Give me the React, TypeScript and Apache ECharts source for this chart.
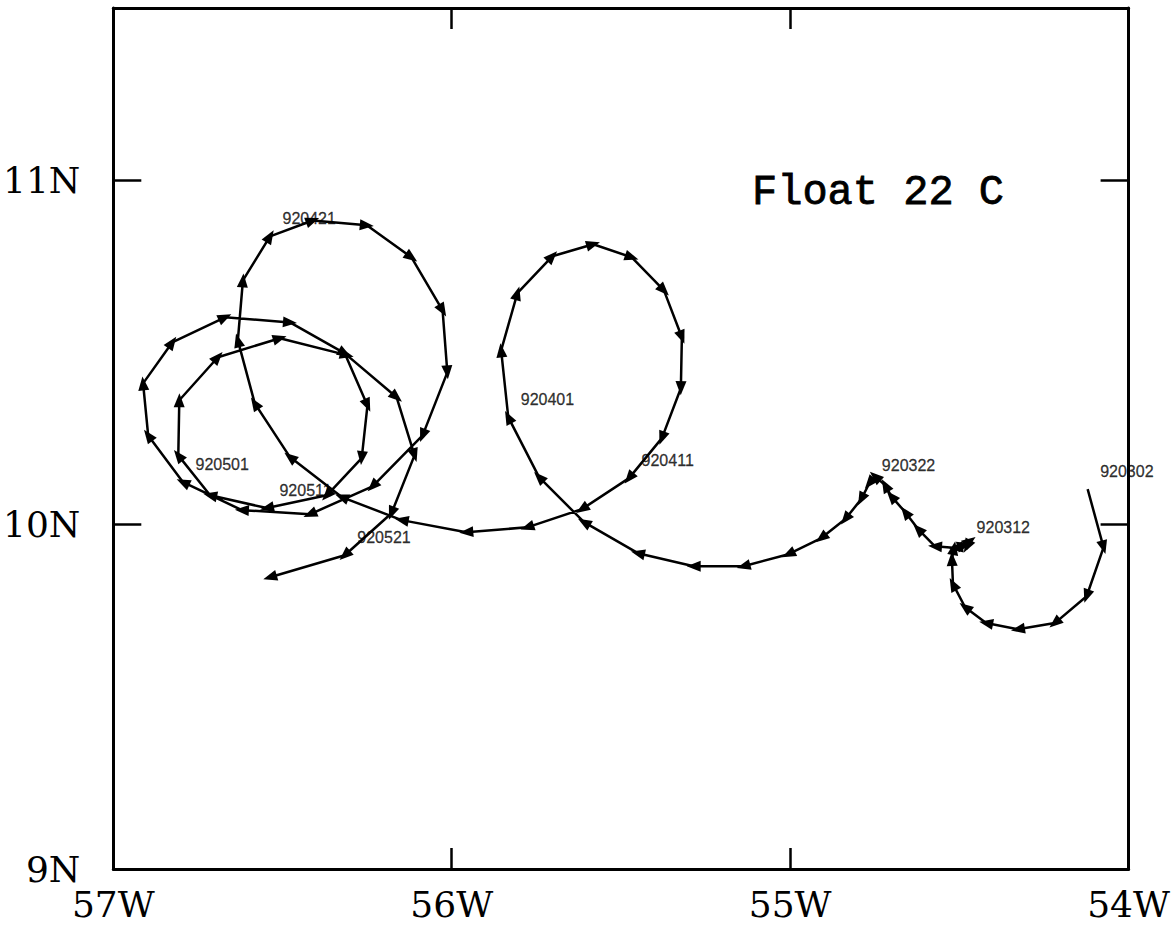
import React, { useEffect, useRef } from "react";
import * as echarts from "echarts";

// Float 22 C trajectory, daily positions (longitude as negative = West)
const lons = [
  -54.121, -54.074, -54.124, -54.218, -54.327, -54.421, -54.483, -54.519, -54.522, -54.516,
  -54.486, -54.469, -54.477, -54.510, -54.572, -54.622, -54.660, -54.701, -54.719, -54.749,
  -54.766, -54.790, -54.837, -54.908, -55.005, -55.138, -55.285, -55.450, -55.609, -55.742,
  -55.833, -55.854, -55.806, -55.703, -55.582, -55.468, -55.373, -55.320, -55.323, -55.379,
  -55.476, -55.615, -55.777, -55.957, -56.148, -56.325, -56.478, -56.582, -56.632, -56.617,
  -56.537, -56.411, -56.251, -56.119, -56.027, -56.013, -56.086, -56.234, -56.419, -56.620,
  -56.794, -56.897, -56.912, -56.826, -56.670, -56.478, -56.316, -56.249, -56.266, -56.369,
  -56.546, -56.714, -56.808, -56.805, -56.691, -56.508, -56.310, -56.163, -56.110, -56.178,
  -56.316, -56.537,
];
const lats = [
  10.103, 9.934, 9.792, 9.714, 9.696, 9.714, 9.760, 9.827, 9.900, 9.932,
  9.940, 9.952, 9.937, 9.932, 9.937, 9.987, 10.036, 10.082, 10.114, 10.140,
  10.120, 10.074, 10.016, 9.961, 9.914, 9.879, 9.879, 9.917, 10.007, 10.138,
  10.312, 10.506, 10.672, 10.779, 10.814, 10.776, 10.680, 10.544, 10.396, 10.251,
  10.135, 10.045, 9.992, 9.978, 10.013, 10.080, 10.196, 10.352, 10.535, 10.709,
  10.837, 10.883, 10.869, 10.776, 10.622, 10.442, 10.259, 10.111, 10.030, 10.042,
  10.123, 10.259, 10.410, 10.529, 10.602, 10.587, 10.497, 10.346, 10.193, 10.085,
  10.048, 10.085, 10.201, 10.361, 10.486, 10.541, 10.492, 10.370, 10.201, 10.033,
  9.911, 9.847,
];
const dateLabels = ["920302", "920312", "920322", "920401", "920411", "920421", "920501", "920511", "920521"];
const dateIndices = [0, 10, 20, 30, 40, 50, 60, 70, 80];

const xTickValues = [-57, -56, -55, -54];
const xTickLabels = ["57W", "56W", "55W", "54W"];
const yTickValues = [9, 10, 11];
const yTickLabels = ["9N", "10N", "11N"];
const titleText = "Float 22 C";

export default function App() {
  const ref = useRef<HTMLDivElement>(null);
  useEffect(() => {
    const chart = echarts.init(ref.current!, null, { renderer: "svg" });
    const points = lons.map((lon, i) => [lon, lats[i]]);
    const xFmt = (v: number) => {
      const i = xTickValues.findIndex((t) => Math.abs(t - v) < 1e-6);
      return i >= 0 ? xTickLabels[i] : "";
    };
    const yFmt = (v: number) => {
      const i = yTickValues.findIndex((t) => Math.abs(t - v) < 1e-6);
      return i >= 0 ? yTickLabels[i] : "";
    };
    const axisLine = { show: true, onZero: false, lineStyle: { color: "#000", width: 3 } };
    const xTick = { show: true, inside: true, length: 21, lineStyle: { color: "#000", width: 2.5 } };
    const yTick = { show: true, inside: true, length: 28, lineStyle: { color: "#000", width: 2.5 } };
    const labelFont = { color: "#000", fontFamily: "DejaVu Serif", fontSize: 36 };

    chart.setOption({
      animation: false,
      backgroundColor: "#fff",
      grid: { left: 113, right: 42, top: 8, bottom: 63, containLabel: false },
      xAxis: [
        {
          type: "value", position: "bottom", min: -57, max: -54, interval: 1,
          axisLine, axisTick: xTick, splitLine: { show: false },
          axisLabel: { ...labelFont, formatter: xFmt, margin: 17 },
        },
        {
          type: "value", position: "top", min: -57, max: -54, interval: 1,
          axisLine, axisTick: xTick, splitLine: { show: false }, axisLabel: { show: false },
        },
      ],
      yAxis: [
        {
          type: "value", position: "left", min: 9, max: 11.5, interval: 1,
          axisLine, axisTick: yTick, splitLine: { show: false },
          axisLabel: { ...labelFont, formatter: yFmt, margin: 33 },
        },
        {
          type: "value", position: "right", min: 9, max: 11.5, interval: 1,
          axisLine, axisTick: yTick, splitLine: { show: false }, axisLabel: { show: false },
        },
      ],
      graphic: [
        {
          type: "text", x: 752, y: 193,
          style: {
            text: titleText, fill: "#000", stroke: "#000", lineWidth: 0.8,
            font: '42px "Liberation Mono"', verticalAlign: "middle", align: "left",
          },
        },
      ],
      series: [
        {
          id: "track", type: "line", xAxisIndex: 0, yAxisIndex: 0,
          data: points, showSymbol: true, showAllSymbol: true,
          symbol: "triangle", symbolSize: [11, 14],
          lineStyle: { color: "#000", width: 2.5 },
          itemStyle: { color: "#000" },
          z: 3,
        },
        {
          id: "dates", type: "scatter", xAxisIndex: 0, yAxisIndex: 0,
          data: dateIndices.map((i) => [lons[i], lats[i]]),
          symbol: "circle", symbolSize: 1,
          itemStyle: { color: "rgba(0,0,0,0)" },
          label: {
            show: true, position: "right", distance: 12, offset: [0, -18],
            formatter: (p: any) => dateLabels[p.dataIndex],
            color: "#000", fontFamily: "Liberation Sans", fontSize: 16,
            textBorderColor: "#000", textBorderWidth: 0.3,
          },
          z: 4,
        },
      ],
    });

    const px = points.map((p) => chart.convertToPixel({ xAxisIndex: 0, yAxisIndex: 0 }, p) as number[]);
    const data = points.map((p, i) => {
      if (i === 0) return { value: p, symbol: "none" };
      const dx = px[i][0] - px[i - 1][0];
      const dy = px[i][1] - px[i - 1][1];
      const ang = (Math.atan2(-dy, dx) * 180) / Math.PI;
      return { value: p, symbolRotate: ang - 90 };
    });
    chart.setOption({ series: [{ id: "track", data }] });

    return () => chart.dispose();
  }, []);
  return (
    <div
      ref={ref}
      style={{ position: "fixed", left: 0, top: 0, width: 1173, height: 932, background: "#fff" }}
    />
  );
}
